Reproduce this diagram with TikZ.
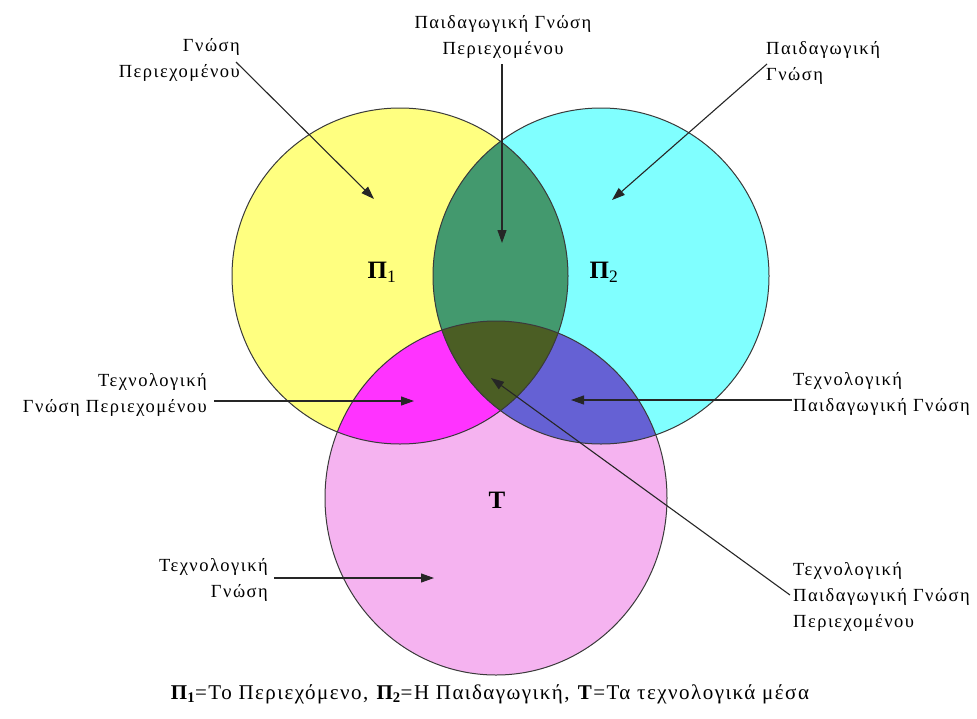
\documentclass[tikz,border=0pt]{standalone}
\usepackage{fontspec}
\setmainfont{Liberation Serif}
\newfontfamily\lblfont[LetterSpace=8]{Liberation Serif}
\newfontfamily\capfont[LetterSpace=7]{Liberation Serif}
\usetikzlibrary{arrows.meta}
\definecolor{cyel}{HTML}{FFFF80}
\definecolor{ccya}{HTML}{80FFFF}
\definecolor{cpnk}{HTML}{F5B3F0}
\definecolor{cgrn}{HTML}{43996E}
\definecolor{cmag}{HTML}{FF33FF}
\definecolor{cpur}{HTML}{6561D4}
\definecolor{colv}{HTML}{4B5E24}
\definecolor{cedge}{HTML}{3A3A3A}
\begin{document}
\begin{tikzpicture}[x=1pt,y=-1pt,
  lbl/.style={inner sep=0pt,font=\lblfont\fontsize{18.5}{26}\selectfont},
  big/.style={inner sep=0pt,font=\bfseries\fontsize{25}{28}\selectfont},
  ptr/.style={draw=black!85,line width=1.1pt,-{Triangle[length=13pt,width=9pt]}},
  ring/.style={draw=cedge,line width=1pt}]
\useasboundingbox (0,0) rectangle (977,718);
\def\cA{(400,276) circle [radius=168pt]}
\def\cB{(601,276) circle [radius=168pt]}
\def\cT{(496,498) ellipse [x radius=171pt,y radius=177pt]}
% base fills
\fill[cyel] \cA;
\fill[ccya] \cB;
\fill[cpnk] \cT;
\begin{scope}\clip \cA; \fill[cgrn] \cB; \end{scope}
\begin{scope}\clip \cA; \fill[cmag] \cT; \end{scope}
\begin{scope}\clip \cB; \fill[cpur] \cT; \end{scope}
\begin{scope}\clip \cA; \clip \cB; \fill[colv] \cT; \end{scope}
\draw[ring] \cA;
\draw[ring] \cB;
\draw[ring] \cT;
% region labels
\node[big] (p1) at (382,272) {Π\textsubscript{\mdseries 1}};
\node[big] (p2) at (604,272) {Π\textsubscript{\mdseries 2}};
\node[big] (t) at (497,500) {Τ};
% text labels
\node[lbl,anchor=east,align=right] (l1) at (240,60) {Γνώση\\Περιεχομένου};
\node[lbl,align=center] (l2) at (503,37) {Παιδαγωγική Γνώση\\Περιεχομένου};
\node[lbl,anchor=west,align=left] (l3) at (766,63) {Παιδαγωγική\\Γνώση};
\node[lbl,anchor=east,align=right] (l4) at (207,395) {Τεχνολογική\\Γνώση Περιεχομένου};
\node[lbl,anchor=west,align=left] (l5) at (793,394) {Τεχνολογική\\Παιδαγωγική Γνώση};
\node[lbl,anchor=east,align=right] (l6) at (268,580) {Τεχνολογική\\Γνώση};
\node[lbl,anchor=west,align=left] (l7) at (793,597) {Τεχνολογική\\Παιδαγωγική Γνώση\\Περιεχομένου};
% arrow endpoints
\coordinate (s1) at (236,62);  \coordinate (e1) at (374,199);
\coordinate (s2) at (502,64);  \coordinate (e2) at (502,243);
\coordinate (s3) at (767,64);  \coordinate (e3) at (612,200);
\coordinate (s4) at (214,401); \coordinate (e4) at (414,401);
\coordinate (s5) at (792,400); \coordinate (e5) at (571,400);
\coordinate (s6) at (274,578); \coordinate (e6) at (434,578);
\coordinate (s7) at (790,595); \coordinate (e7) at (491,378);
\foreach \i in {1,...,7} {\draw[ptr] (s\i) -- (e\i);}
% caption
\node[inner sep=0pt,font=\capfont\fontsize{21}{24}\selectfont] (cap) at (490,694)
 {\textbf{Π\textsubscript{1}}=Το Περιεχόμενο, \textbf{Π\textsubscript{2}}=Η Παιδαγωγική, \textbf{Τ}=Τα τεχνολογικά μέσα};
\end{tikzpicture}
\end{document}
